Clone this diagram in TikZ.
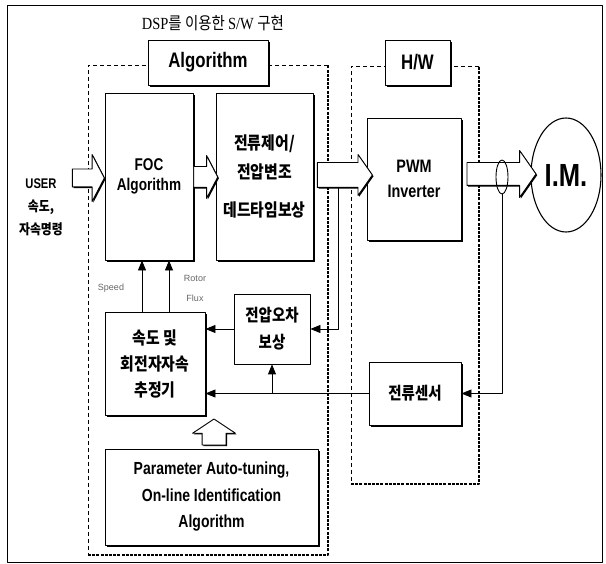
\documentclass[tikz,border=0pt]{standalone}
\usepackage{fontspec}
\setmainfont{Liberation Sans}
\newfontfamily\nar{Liberation Sans}[FakeStretch=0.8]
\newfontfamily\kr{Noto Sans CJK KR}[FakeStretch=0.85]
\newfontfamily\tms{Liberation Serif}[FakeStretch=0.85]
\usetikzlibrary{arrows.meta,shapes.arrows,shapes.geometric,shadows}
\newcommand\fsz[2]{\fontsize{#1}{#2}\selectfont}
\tikzset{
  blk/.style={draw, line width=0.9pt, fill=white, align=center,
    drop shadow={shadow xshift=1.6pt, shadow yshift=-1.6pt, opacity=1, fill=black}},
  plainblk/.style={draw, line width=0.8pt, fill=white, align=center},
  fat/.style={single arrow, draw, line width=0.9pt, fill=white, inner xsep=0pt,
    single arrow head indent=0pt, minimum width=1pt,
    drop shadow={shadow xshift=1.2pt, shadow yshift=-1.2pt, opacity=1, fill=black}},
  sig/.style={line width=0.8pt, -{Triangle[length=10pt,width=8pt]}},
  thinfence/.style={line width=0.7pt, dash pattern=on 4pt off 3pt},
  thickfence/.style={line width=2pt, dash pattern=on 3pt off 1.2pt},
  lbl/.style={font=\fsz{9}{20}, text=black!60, align=center}
}
\begin{document}
\begin{tikzpicture}[x=1pt, y=-1pt, line join=round]
  \useasboundingbox (0,0) rectangle (606,564);
  \draw[line width=0.8pt] (7,5) rectangle (602,562);
  \node[font=\tms\fsz{17}{20}] (ttl) at (213,23) {DSP{\kr 를 이용한 }S/W {\kr 구현}};
  % S/W and H/W regions
  \draw[thinfence] (328,65) -- (88,65) -- (88,555);
  \draw[thickfence] (88,555) -- (328,555) -- (328,65);
  \draw[thinfence] (479,66) -- (351,66) -- (351,484);
  \draw[thickfence] (351,484) -- (479,484) -- (479,66);
  \node[blk, minimum width=120, minimum height=45, font=\nar\bfseries\fsz{21}{24}] (alg) at (208,62.5) {Algorithm};
  \node[blk, minimum width=65, minimum height=45, font=\nar\bfseries\fsz{21}{24}] (hw) at (417.5,62.5) {H/W};
  % blocks
  \node[font=\fsz{14}{23}, align=center] (usr) at (41,207) {{\nar\bfseries USER}\\{\kr\bfseries 속도,}\\{\kr\bfseries 자속명령}};
  \node[blk, minimum width=88, minimum height=167, font=\nar\bfseries\fsz{17}{20}] (foc) at (149,176.5) {FOC\\Algorithm};
  \node[blk, minimum width=97, minimum height=167, font=\kr\bfseries\fsz{17.5}{29}] (cur) at (264.5,176.5) {전류제어/\\전압변조\\[9pt]데드타임보상};
  \node[blk, minimum width=94, minimum height=122, font=\nar\bfseries\fsz{18}{25}] (pwm) at (414,179) {PWM\\Inverter};
  \node[draw, ellipse, line width=1.1pt, minimum width=70, minimum height=114, font=\nar\bfseries\fsz{32}{34}] (im) at (566,175) {I.M.};
  \node[blk, minimum width=100, minimum height=103, font=\kr\bfseries\fsz{17.5}{26}] (est) at (155,363.5) {속도 및\\회전자자속\\추정기};
  \node[plainblk, minimum width=76, minimum height=70, font=\kr\bfseries\fsz{17}{27}] (verr) at (272,329) {전압오차\\보상};
  \node[blk, minimum width=92, minimum height=63, font=\kr\bfseries\fsz{17}{20}] (sens) at (415,393.5) {전류센서};
  \node[blk, minimum width=213, minimum height=96, font=\nar\bfseries\fsz{17.5}{26.5}] (param) at (211.5,497) {Parameter Auto-tuning,\\On-line Identification\\Algorithm};
  % fat arrows
  \node[fat, minimum height=32, inner ysep=8.5, single arrow head extend=14.5, single arrow tip angle=125] (uarr) at (86,178) {};
  \node[fat, minimum height=24, inner ysep=10, single arrow head extend=11, single arrow tip angle=125] (farr) at (203,177) {};
  \node[fat, minimum height=55, inner ysep=12, single arrow head extend=8, single arrow tip angle=110] (carr) at (340.5,175) {};
  \node[fat, minimum height=69, inner ysep=11, single arrow head extend=12, single arrow tip angle=110] (parr) at (497.5,174) {};
  \node[fat, minimum height=26, inner ysep=11.5, single arrow head extend=9.5, single arrow tip angle=113, rotate=90] (tarr) at (214,436) {};
  \node[draw, ellipse, line width=0.9pt, minimum width=12, minimum height=34, inner sep=0pt] (ct) at (502,177) {};
  % signals
  \draw[sig] ([xshift=-13pt]est.north) -- ([xshift=-13pt]est.north |- foc.south);
  \draw[sig] ([xshift=14pt]est.north) -- ([xshift=14pt]est.north |- foc.south);
  \node[lbl] (spd) at (111,288) {Speed};
  \node[lbl] (flx) at (195,288) {Rotor\\Flux};
  \coordinate (tap) at (338,187);
  \draw[sig] (tap) |- (verr.east);
  \draw[sig] (ct.south) |- (sens.east);
  \draw[sig] (sens.west) -- (sens.west -| est.east);
  \draw[sig] (sens.west -| verr.south) -- (verr.south);
  \draw[sig] (verr.west) -- (verr.west -| est.east);
\end{tikzpicture}
\end{document}
